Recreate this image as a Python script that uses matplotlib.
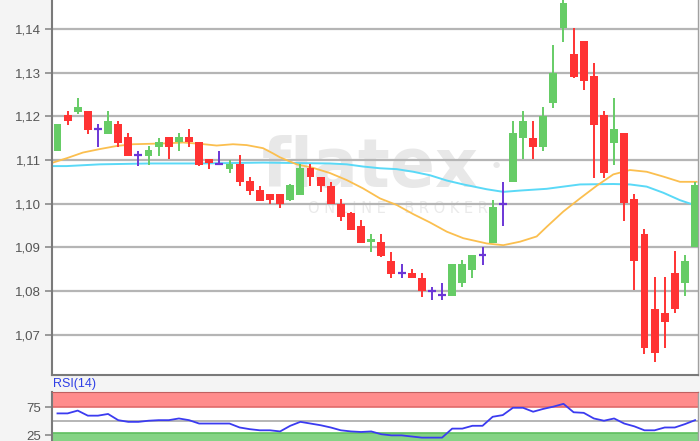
import numpy as np
import matplotlib.pyplot as plt

# OHLC (64 sessions)
opens = [1.1121, 1.1203, 1.1210, 1.1212, 1.1170, 1.1160, 1.1182, 1.1152, 1.1111, 1.1109,
	1.1130, 1.1152, 1.1141, 1.1152, 1.1141, 1.1102, 1.1090, 1.1080, 1.1090, 1.1051,
	1.1031, 1.1021, 1.1021, 1.1008, 1.1019, 1.1081, 1.1060, 1.1041, 1.1000, 1.0979,
	1.0950, 1.0912, 1.0912, 1.0869, 1.0841, 1.0841, 1.0831, 1.0801, 1.0791, 1.0789,
	1.0819, 1.0848, 1.0882, 1.0911, 1.1000, 1.1050, 1.1151, 1.1151, 1.1130, 1.1231,
	1.1401, 1.1343, 1.1372, 1.1292, 1.1202, 1.1138, 1.1161, 1.1010, 1.0930, 1.0760,
	1.0751, 1.0841, 1.0818, 1.0900]
highs = [1.1183, 1.1212, 1.1241, 1.1212, 1.1182, 1.1212, 1.1189, 1.1161, 1.1121, 1.1131,
	1.1151, 1.1153, 1.1161, 1.1170, 1.1142, 1.1103, 1.1121, 1.1100, 1.1111, 1.1060,
	1.1041, 1.1022, 1.1022, 1.1044, 1.1090, 1.1090, 1.1061, 1.1050, 1.1010, 1.0980,
	1.0963, 1.0930, 1.0930, 1.0890, 1.0861, 1.0850, 1.0841, 1.0810, 1.0819, 1.0862,
	1.0871, 1.0883, 1.0901, 1.1008, 1.1050, 1.1190, 1.1211, 1.1190, 1.1221, 1.1363,
	1.1470, 1.1401, 1.1373, 1.1321, 1.1212, 1.1241, 1.1162, 1.1021, 1.0941, 1.0833,
	1.0833, 1.0892, 1.0882, 1.1050]
lows = [1.1120, 1.1180, 1.1205, 1.1159, 1.1129, 1.1160, 1.1130, 1.1108, 1.1087, 1.1088,
	1.1109, 1.1102, 1.1121, 1.1130, 1.1086, 1.1079, 1.1089, 1.1070, 1.1041, 1.1019,
	1.1005, 1.0999, 1.0990, 1.1007, 1.1019, 1.1041, 1.1027, 1.0999, 1.0960, 1.0939,
	1.0910, 1.0889, 1.0879, 1.0829, 1.0831, 1.0830, 1.0787, 1.0779, 1.0779, 1.0788,
	1.0809, 1.0829, 1.0860, 1.0910, 1.0949, 1.1049, 1.1102, 1.1102, 1.1121, 1.1218,
	1.1370, 1.1288, 1.1260, 1.1058, 1.1058, 1.1089, 1.0961, 1.0802, 1.0657, 1.0637,
	1.0669, 1.0749, 1.0789, 1.0900]
closes = [1.1182, 1.1189, 1.1221, 1.1168, 1.1170, 1.1190, 1.1138, 1.1109, 1.1111, 1.1122,
	1.1142, 1.1130, 1.1152, 1.1141, 1.1088, 1.1092, 1.1090, 1.1090, 1.1049, 1.1029,
	1.1007, 1.1008, 1.1000, 1.1043, 1.1081, 1.1060, 1.1041, 1.1000, 1.0969, 1.0940,
	1.0911, 1.0920, 1.0880, 1.0839, 1.0841, 1.0831, 1.0801, 1.0801, 1.0791, 1.0861,
	1.0862, 1.0882, 1.0882, 1.0992, 1.1000, 1.1161, 1.1190, 1.1129, 1.1201, 1.1300,
	1.1460, 1.1289, 1.1281, 1.1180, 1.1071, 1.1170, 1.1001, 1.0868, 1.0670, 1.0659,
	1.0729, 1.0758, 1.0869, 1.1042]

# moving averages, read at points along the lines (x = session index)
fast_x = [-0.44, 0.91, 2.52, 4.20, 5.85, 7.46, 9.14, 10.79, 12.40, 14.08, 15.73, 17.34,
	18.70, 20.31, 21.30, 21.99, 23.64, 25.25, 26.93, 28.58, 30.19, 31.87, 33.52, 35.16,
	36.81, 38.46, 40.10, 42.41, 44.05, 45.70, 47.35, 48.34, 49.98, 51.63, 53.28, 54.92,
	56.57, 58.22, 59.86, 61.51, 63.16]
fast_y = [1.1094, 1.1104, 1.1117, 1.1125, 1.1132, 1.1136, 1.1137, 1.1138, 1.1140, 1.1137,
	1.1133, 1.1136, 1.1134, 1.1127, 1.1115, 1.1106, 1.1090, 1.1082, 1.1070, 1.1054,
	1.1035, 1.1012, 1.0997, 1.0976, 1.0957, 1.0936, 1.0921, 1.0909, 1.0905, 1.0913,
	1.0925, 1.0947, 1.0982, 1.1012, 1.1041, 1.1067, 1.1077, 1.1073, 1.1062, 1.1050,
	1.1050]
slow_x = [-0.44, 0.91, 4.20, 9.14, 14.08, 17.34, 20.31, 23.64, 26.93, 28.58, 30.19, 31.87,
	33.52, 35.16, 36.81, 38.46, 40.10, 42.41, 44.05, 45.70, 48.34, 49.98, 51.63, 54.92,
	56.57, 58.22, 59.86, 61.51, 63.16]
slow_y = [1.1086, 1.1086, 1.1090, 1.1092, 1.1092, 1.1093, 1.1094, 1.1093, 1.1092, 1.1090,
	1.1085, 1.1081, 1.1079, 1.1073, 1.1065, 1.1053, 1.1044, 1.1033, 1.1027, 1.1030,
	1.1034, 1.1039, 1.1044, 1.1045, 1.1044, 1.1039, 1.1025, 1.1008, 1.0995]

rsi = [64, 64, 69, 60, 60, 63, 52, 49, 49, 51, 52, 52, 55, 52, 46, 46, 46, 46, 39, 36,
	34, 34, 32, 42, 49, 46, 43, 39, 34, 32, 31, 32, 27, 25, 25, 23, 21, 21, 21, 37,
	37, 42, 42, 58, 61, 74, 74, 67, 72, 76, 81, 66, 65, 55, 51, 55, 46, 41, 34, 34,
	39, 39, 45, 52]

price_ticks = [1.07, 1.08, 1.09, 1.10, 1.11, 1.12, 1.13, 1.14]
rsi_ticks = [25, 75]

GREEN = '#66cc66'
RED = '#ff3333'
DOJI = '#6b36d6'

plt.rcParams['font.family'] = ['Liberation Sans', 'DejaVu Sans']


def draw_candles(ax, width=0.78):
	for i in range(len(opens)):
		o, h, l, c = opens[i], highs[i], lows[i], closes[i]
		if c > o:
			col = GREEN
		elif c < o:
			col = RED
		else:
			col = DOJI
		ax.vlines(i, l, h, color=col, lw=1.4, zorder=3)
		if c == o:
			ax.hlines(o, i - width / 2, i + width / 2, color=col, lw=1.6, zorder=3)
		else:
			ax.bar(i, abs(c - o), width, bottom=min(o, c), color=col, lw=0, zorder=3)


def style_axis(ax):
	ax.set_facecolor('white')
	ax.spines['top'].set_visible(False)
	ax.spines['left'].set_color('#7a7a7a')
	ax.spines['left'].set_linewidth(1.5)
	ax.spines['bottom'].set_color('#7a7a7a')
	ax.spines['bottom'].set_linewidth(1.5)
	ax.spines['right'].set_color('#a0a0a0')
	ax.spines['right'].set_linewidth(1.0)
	ax.set_xticks([])
	ax.tick_params(axis='y', length=5, width=1.2, color='#8a8a8a', labelcolor='#555555',
		labelsize=9.5, pad=3)


fig = plt.figure(figsize=(7, 4.41), dpi=100, facecolor='#f4f4f4')
ax = fig.add_axes([52 / 700, 66 / 441, 646 / 700, 375 / 441])
style_axis(ax)
ax.set_xlim(-0.54, 63.29)
ax.set_ylim(1.0608, 1.1466)
ax.set_yticks(price_ticks)
ax.set_yticklabels([('%.2f' % v).replace('.', ',') for v in price_ticks])
ax.yaxis.grid(True, color='#b5b5b5', lw=1.6, zorder=1)
ax.set_axisbelow(True)

# watermark
ax.text(0.492, 0.50, 'flatex', transform=ax.transAxes, ha='center', va='baseline',
	fontsize=48, fontweight='bold', family='DejaVu Sans', color='#e8e8e8', zorder=0.5)
ax.text(0.688, 0.555, '\u2022', transform=ax.transAxes, ha='center', va='center',
	fontsize=16, family='DejaVu Sans', color='#e8e8e8', zorder=0.5)
ax.text(0.535, 0.445, 'O N L I N E    B R O K E R', transform=ax.transAxes, ha='center',
	va='center', fontsize=10.5, family='DejaVu Sans', color='#eaeaea', zorder=0.5)

ax.plot(slow_x, slow_y, color='#5ad9f7', lw=1.4, zorder=2)
ax.plot(fast_x, fast_y, color='#fbbf4f', lw=1.3, zorder=2)
draw_candles(ax)

# RSI panel
ax2 = fig.add_axes([52 / 700, 0, 646 / 700, 49 / 441])
style_axis(ax2)
ax2.spines['bottom'].set_visible(False)
ax2.spines['top'].set_visible(True)
ax2.spines['top'].set_color('#c06060')
ax2.set_xlim(-0.54, 63.29)
ax2.set_ylim(15, 102)
ax2.axhspan(75, 102, color='#ff8c8c', lw=0, zorder=1)
ax2.axhline(75, color='#e06a6a', lw=1.2, zorder=1.5)
ax2.axhspan(15, 30, color='#85d385', lw=0, zorder=1)
ax2.axhline(30, color='#5fbf5f', lw=1.2, zorder=1.5)
ax2.axhline(50, color='#b5b5b5', lw=1.4, zorder=1.5)
ax2.set_yticks(rsi_ticks)
ax2.set_yticklabels([str(v) for v in rsi_ticks])
ax2.plot(np.arange(len(rsi)), rsi, color='#3b3bf0', lw=1.3, zorder=3)

fig.text(53 / 700, 1 - 384 / 441, 'RSI(14)', color='#2f3fe6', fontsize=9, va='center')

fig.savefig('out.png', dpi=100, facecolor=fig.get_facecolor())
